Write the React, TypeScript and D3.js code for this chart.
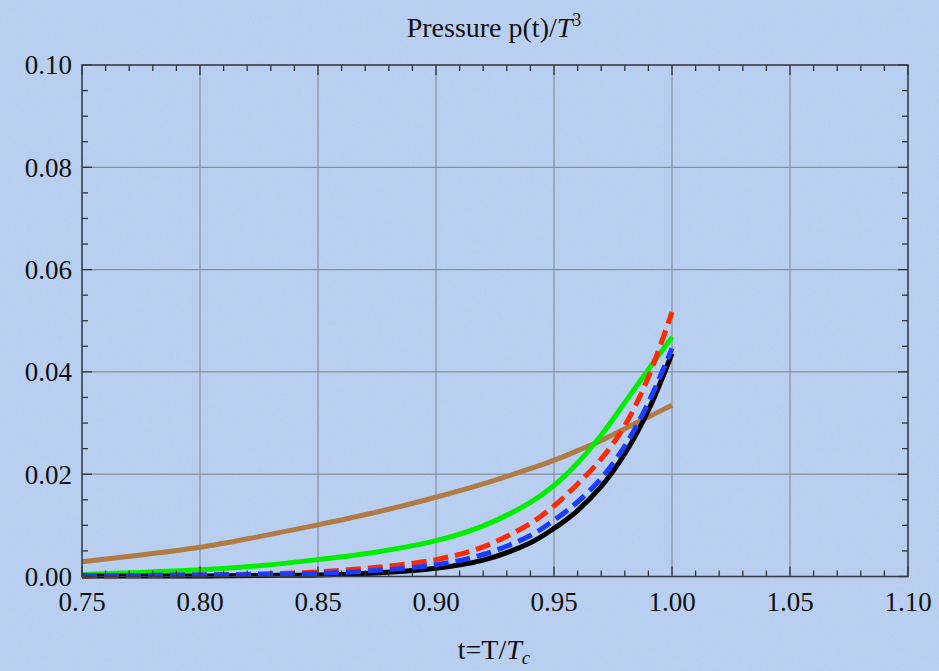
import React from "react";
import * as d3 from "d3";

// Sample temperatures t = T/Tc
const tValues = [0.75, 0.775, 0.8, 0.825, 0.85, 0.875, 0.9, 0.92, 0.94, 0.95, 0.96, 0.97, 0.98, 0.99, 1.0];

// p(t)/T^3 for each model
const brownSeries = [0.0029, 0.0042, 0.0057, 0.0078, 0.0101, 0.0126, 0.0155, 0.0181, 0.0211, 0.0227, 0.0246, 0.0266, 0.0289, 0.0312, 0.0335];
const greenSeries = [0.0004, 0.0008, 0.0013, 0.0021, 0.0033, 0.0048, 0.007, 0.0099, 0.0145, 0.0178, 0.0222, 0.0276, 0.034, 0.0405, 0.0468];
const redSeries = [0.0001, 0.0002, 0.0003, 0.0005, 0.0009, 0.0018, 0.0033, 0.0058, 0.0104, 0.0138, 0.0181, 0.023, 0.0295, 0.039, 0.0517];
const blackSeries = [0.0001, 0.0001, 0.0001, 0.0002, 0.0003, 0.0007, 0.0016, 0.0032, 0.0066, 0.0094, 0.0129, 0.0176, 0.024, 0.0325, 0.0436];
const blueSeries = [0.0002, 0.0002, 0.0003, 0.0004, 0.0006, 0.0012, 0.0023, 0.0043, 0.008, 0.011, 0.0146, 0.0192, 0.0255, 0.034, 0.0446];

const xTicks = [0.75, 0.8, 0.85, 0.9, 0.95, 1.0, 1.05, 1.1];
const yTicks = [0.0, 0.02, 0.04, 0.06, 0.08, 0.1];

const W = 939;
const H = 671;
const left = 82;
const right = 908;
const top = 65;
const bottom = 576.5;

export default function App() {
  const x = d3.scaleLinear().domain([0.75, 1.1]).range([left, right]);
  const y = d3.scaleLinear().domain([0, 0.1]).range([bottom, top]);

  const line = d3
    .line<number>()
    .x((_, i) => x(tValues[i]))
    .y((d) => y(d))
    .curve(d3.curveCatmullRom.alpha(0.5));

  const xMinor = d3.range(0, 36).map((i) => 0.75 + i * 0.01);
  const yMinor = d3.range(0, 21).map((i) => i * 0.005);
  const isMajorX = (v: number) => xTicks.some((t) => Math.abs(t - v) < 1e-6);
  const isMajorY = (v: number) => yTicks.some((t) => Math.abs(t - v) < 1e-6);

  const font = "'Liberation Serif', 'DejaVu Serif', serif";
  const tickColor = "#333";

  return (
    <svg
      width={W}
      height={H}
      style={{ position: "absolute", left: 0, top: 0 }}
      fontFamily={font}
    >
      <defs>
        <filter id="paper" x="0" y="0" width="100%" height="100%">
          <feTurbulence type="fractalNoise" baseFrequency="0.9" numOctaves={3} seed={4} result="noise" />
          <feColorMatrix
            in="noise"
            type="matrix"
            values="0 0 0 0 1  0 0 0 0 1  0 0 0 0 1  0 0 0 -1.4 0.75"
          />
        </filter>
      </defs>
      <rect x={0} y={0} width={W} height={H} fill="#b7cef0" />
      <rect x={0} y={0} width={W} height={H} filter="url(#paper)" opacity={0.18} />

      {/* grid */}
      {xTicks.slice(1, -1).map((v) => (
        <line key={"gx" + v} x1={x(v)} x2={x(v)} y1={top} y2={bottom} stroke="#8a8f98" strokeWidth={1.2} />
      ))}
      {yTicks.slice(1, -1).map((v) => (
        <line key={"gy" + v} x1={left} x2={right} y1={y(v)} y2={y(v)} stroke="#8a8f98" strokeWidth={1.2} />
      ))}

      {/* curves */}
      <path d={line(brownSeries) ?? ""} fill="none" stroke="#b07b44" strokeWidth={5} />
      <path d={line(greenSeries) ?? ""} fill="none" stroke="#00ee00" strokeWidth={5} />
      <path d={line(redSeries) ?? ""} fill="none" stroke="#ff2a00" strokeWidth={5} strokeDasharray="15 7" />
      <path d={line(blackSeries) ?? ""} fill="none" stroke="#000000" strokeWidth={5} />
      <path d={line(blueSeries) ?? ""} fill="none" stroke="#1a3cff" strokeWidth={5} strokeDasharray="15 7" />

      {/* frame ticks */}
      {xMinor.map((v) => {
        const len = isMajorX(v) ? 10 : 6;
        return (
          <g key={"tx" + v}>
            <line x1={x(v)} x2={x(v)} y1={bottom} y2={bottom - len} stroke={tickColor} strokeWidth={1.3} />
            <line x1={x(v)} x2={x(v)} y1={top} y2={top + len} stroke={tickColor} strokeWidth={1.3} />
          </g>
        );
      })}
      {yMinor.map((v) => {
        const len = isMajorY(v) ? 10 : 6;
        return (
          <g key={"ty" + v}>
            <line x1={left} x2={left + len} y1={y(v)} y2={y(v)} stroke={tickColor} strokeWidth={1.3} />
            <line x1={right} x2={right - len} y1={y(v)} y2={y(v)} stroke={tickColor} strokeWidth={1.3} />
          </g>
        );
      })}
      <rect x={left} y={top} width={right - left} height={bottom - top} fill="none" stroke="#3a3d44" strokeWidth={1.6} />

      {/* tick labels */}
      {xTicks.map((v) => (
        <text key={"lx" + v} x={x(v)} y={611} textAnchor="middle" fontSize={27} fill="#111">
          {v.toFixed(2)}
        </text>
      ))}
      {yTicks.map((v) => (
        <text key={"ly" + v} x={72} y={y(v)} dy="0.35em" textAnchor="end" fontSize={27} fill="#111">
          {v.toFixed(2)}
        </text>
      ))}

      {/* title */}
      <text x={494} y={37} textAnchor="middle" fontSize={28} fill="#111">
        Pressure p(t)/<tspan fontStyle="italic">T</tspan>
        <tspan fontSize={18} dy={-11}>3</tspan>
      </text>

      {/* x-axis label */}
      <text x={494} y={659} textAnchor="middle" fontSize={28} fill="#111">
        t=T/<tspan fontStyle="italic">T</tspan>
        <tspan fontStyle="italic" fontSize={19} dy={5}>c</tspan>
      </text>
    </svg>
  );
}
